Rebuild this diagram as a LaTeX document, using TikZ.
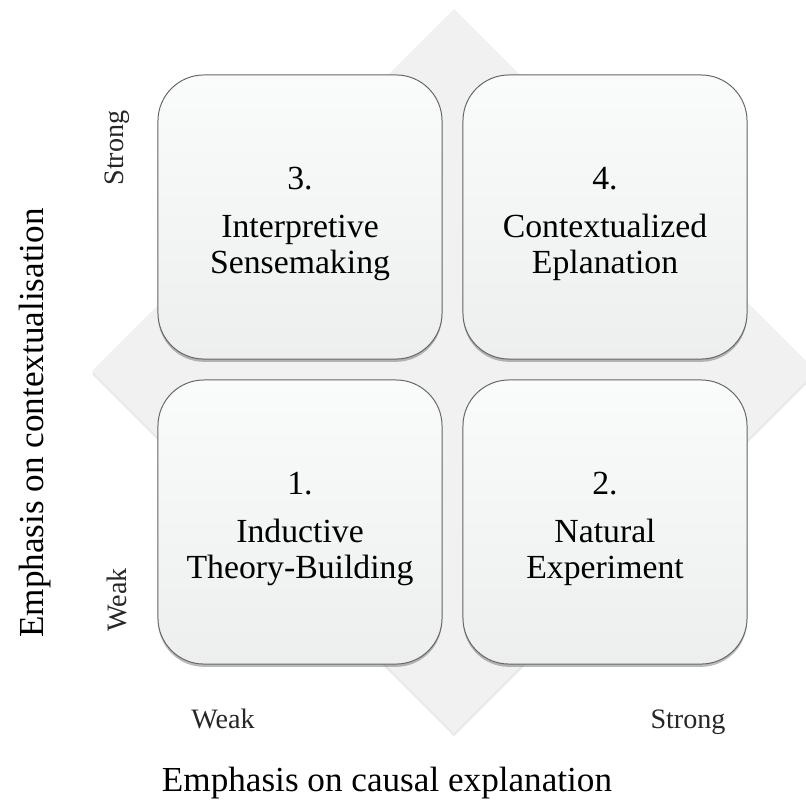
\documentclass[tikz,border=0pt]{standalone}
\usepackage{fontspec}
\setmainfont{Liberation Serif}
\usetikzlibrary{shadows}

\definecolor{diamondgray}{HTML}{F1F1F1}
\definecolor{boxtop}{HTML}{FAFBFB}
\definecolor{boxbottom}{HTML}{EDEFEF}

\tikzset{
  quad/.style={draw=black!60, line width=0.7pt, rounded corners=1.15cm,
    minimum width=7.1cm, minimum height=7.1cm, align=center,
    top color=boxtop, bottom color=boxbottom,
    font=\fontsize{24}{26}\selectfont,
    drop shadow={shadow xshift=0pt, shadow yshift=-2pt, opacity=0.45, fill=black!60}},
  level/.style={font=\fontsize{20}{22}\selectfont, text=black!85},
  axis/.style={font=\fontsize{25}{28}\selectfont}
}
\newcommand{\toppad}{\rule{0pt}{26pt}}

\begin{document}
\begin{tikzpicture}[x=0.025cm, y=-0.025cm]
  \useasboundingbox (0,0) rectangle (806,804);

  % Background diamond
  \fill[black!9] (454,12) -- (816,374) -- (454,736) -- (92,374) -- cycle;
  \fill[diamondgray] (454,9) -- (816,371) -- (454,733) -- (92,371) -- cycle;

  % Quadrants
  \node[quad] (box3) at (300,217) {\toppad 3.\\[8pt]Interpretive\\Sensemaking};
  \node[quad] (box4) at (605,217) {\toppad 4.\\[8pt]Contextualized\\Eplanation};
  \node[quad] (box1) at (300,522) {\toppad 1.\\[8pt]Inductive\\Theory-Building};
  \node[quad] (box2) at (605,522) {\toppad 2.\\[8pt]Natural\\Experiment};

  % Levels
  \node[level, rotate=90] (ystrong) at (117,148) {Strong};
  \node[level, rotate=90] (yweak) at (117,600) {Weak};
  \node[level, anchor=base] (xweak) at (223,728) {Weak};
  \node[level, anchor=base] (xstrong) at (688,728) {Strong};

  % Axis titles
  \node[axis, anchor=base] (xtitle) at (387,791) {Emphasis on causal explanation};
  \node[axis, rotate=90] (ytitle) at (35,423) {Emphasis on contextualisation};
\end{tikzpicture}
\end{document}
